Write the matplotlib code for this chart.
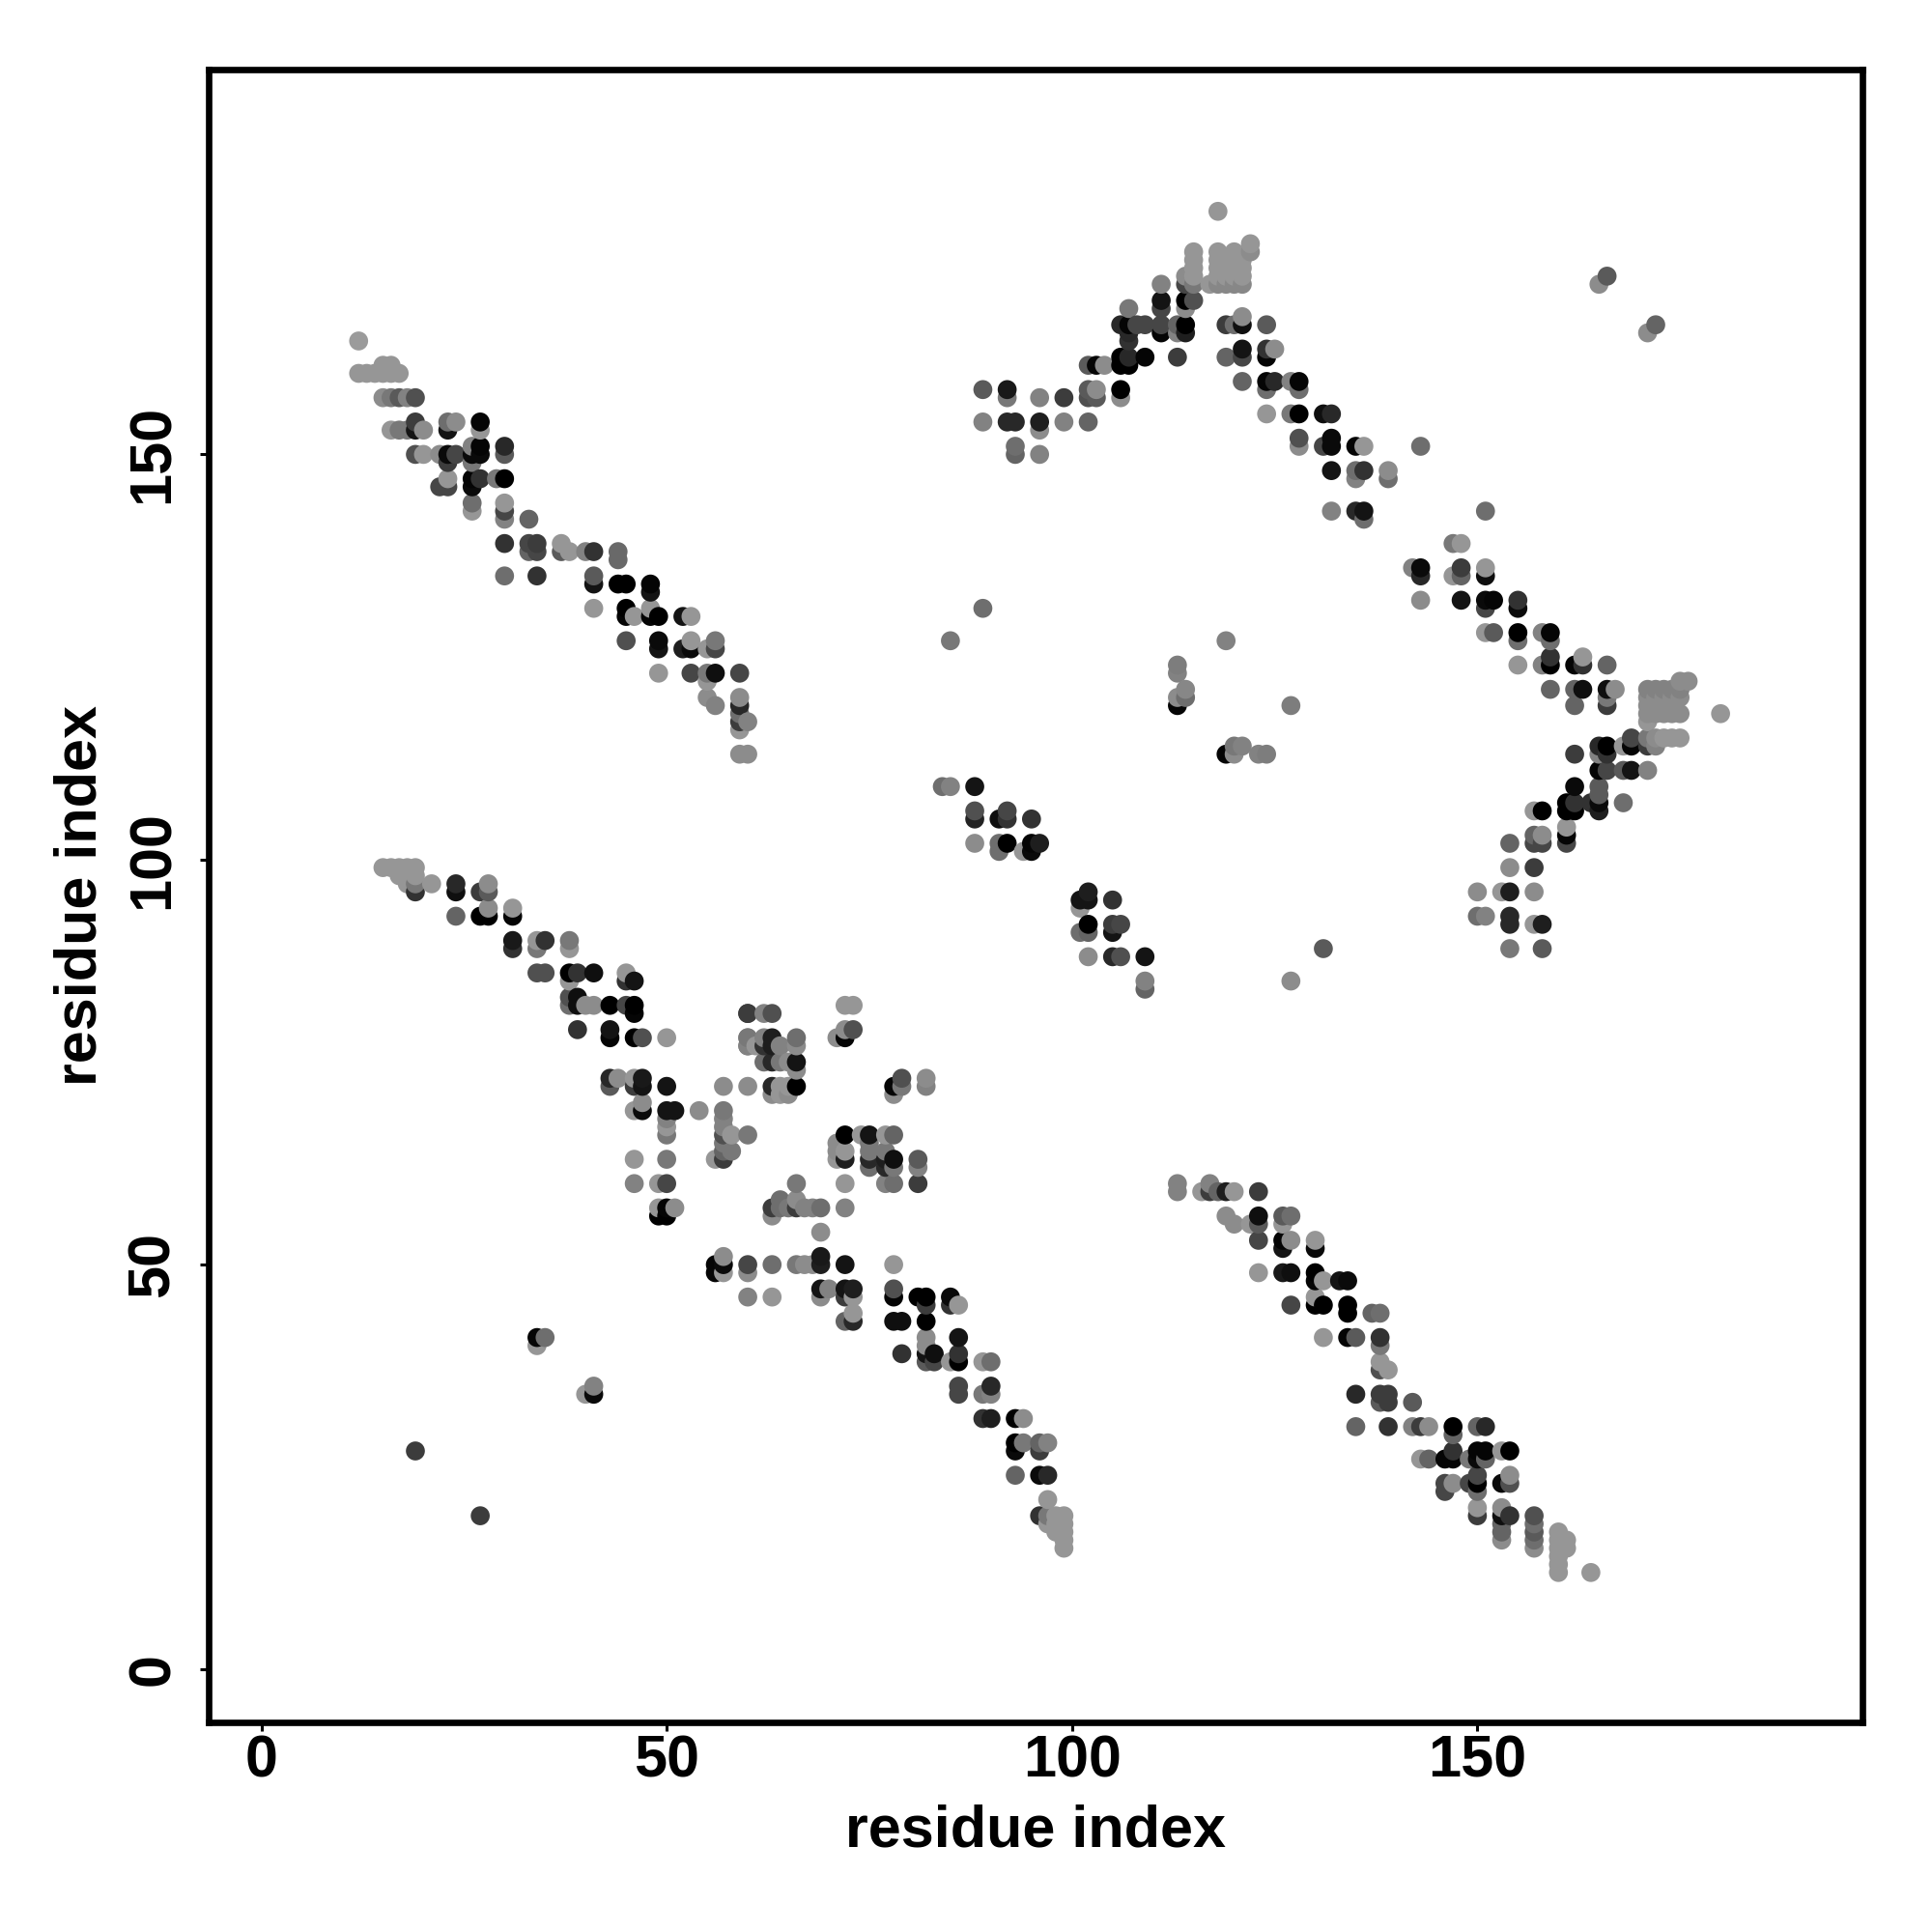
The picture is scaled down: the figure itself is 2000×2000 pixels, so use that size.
import numpy as np
from matplotlib import pyplot as plt

plt.rcParams['font.family'] = ['Liberation Sans', 'DejaVu Sans']
plt.rcParams['font.weight'] = 'bold'

# upper left band
a_x = [12,
       15, 16,
       12, 13, 14, 15, 16, 17,
       15, 16, 17, 18, 19,
       19, 23, 24, 27,
       16, 17, 18, 19, 20, 23, 27,
       26, 27, 30,
       19, 20, 22, 23, 24, 26, 27, 30,
       23, 26,
       23, 26, 27, 29, 30,
       22, 23, 26,
       26, 30,
       26, 30,
       30, 33,
       30, 33, 34, 37,
       33, 34, 37, 38, 40, 41, 44,
       44,
       30, 34, 41,
       41, 44, 45, 48,
       48,
       41, 45, 48,
       45, 46, 48, 49, 52, 53,
       45, 49, 53, 56,
       49, 52, 53, 55, 56,
       49, 53, 55, 56, 59,
       55,
       55, 59,
       56, 59,
       59,
       59, 60,
       59,
       59, 60]
a_y = [164,
       161, 161,
       160, 160, 160, 160, 160, 160,
       157, 157, 157, 157, 157,
       154, 154, 154, 154,
       153, 153, 153, 153, 153, 153, 153,
       151, 151, 151,
       150, 150, 150, 150, 150, 150, 150, 150,
       149, 149,
       147, 147, 147, 147, 147,
       146, 146, 146,
       144, 144,
       143, 143,
       142, 142,
       139, 139, 139, 139,
       138, 138, 138, 138, 138, 138, 138,
       137,
       135, 135, 135,
       134, 134, 134, 134,
       133,
       131, 131, 131,
       130, 130, 130, 130, 130, 130,
       127, 127, 127, 127,
       126, 126, 126, 126, 126,
       123, 123, 123, 123, 123,
       122,
       120, 120,
       119, 119,
       118,
       117, 117,
       116,
       113, 113]
a_g = [155,
       150, 150,
       150, 150, 150, 150, 150, 150,
       140, 120, 90, 130, 80,
       60, 110, 140, 5,
       150, 120, 120, 20, 140, 20, 150,
       130, 5, 40,
       80, 150, 140, 10, 70, 10, 10, 90,
       60, 120,
       150, 5, 50, 120, 0,
       70, 70, 10,
       110, 150,
       150, 70,
       130, 100,
       50, 70, 60, 150,
       100, 70, 90, 150, 130, 50, 105,
       105,
       110, 50, 90,
       20, 0, 0, 5,
       20,
       150, 0, 150,
       5, 150, 5, 0, 20, 150,
       80, 10, 150, 120,
       20, 30, 10, 150, 70,
       150, 70, 120, 15, 70,
       150,
       140, 140,
       130, 40,
       110,
       60, 130,
       150,
       140, 140]

# lower left band
b_x = [15, 16, 17, 18, 19,
       17, 18, 19,
       18, 19, 21, 24, 28,
       19, 24, 27, 28,
       28, 31,
       24, 27, 28, 31,
       31, 34, 35, 38,
       31, 34, 38,
       34, 35, 38, 39, 41, 45,
       38, 45, 46,
       38, 39,
       38, 39, 40, 41, 43, 45, 46,
       46, 60,
       39, 43,
       43, 46, 47, 50, 60,
       60,
       43, 44, 46, 47,
       43, 46, 47, 50, 57, 60,
       47,
       46, 47, 50, 51, 54, 57,
       50, 57,
       50, 57,
       50, 57, 58, 60,
       57,
       57, 58,
       46, 50, 56, 57,
       46, 49, 50,
       49, 50, 51,
       49, 50]
b_y = [99, 99, 99, 99, 99,
       98, 98, 98,
       97, 97, 97, 97, 97,
       96, 96, 96, 96,
       94, 94,
       93, 93, 93, 93,
       90, 90, 90, 90,
       89, 89, 89,
       86, 86, 86, 86, 86, 86,
       85, 85, 85,
       83, 83,
       82, 82, 82, 82, 82, 82, 82,
       81, 81,
       79, 79,
       78, 78, 78, 78, 78,
       77,
       73, 73, 73, 73,
       72, 72, 72, 72, 72, 72,
       70,
       69, 69, 69, 69, 69, 69,
       68, 68,
       67, 67,
       66, 66, 66, 66,
       65,
       64, 64,
       63, 63, 63, 63,
       60, 60, 60,
       57, 57, 57,
       56, 56]
b_g = [150, 150, 150, 150, 150,
       150, 150, 150,
       150, 120, 150, 40, 140,
       50, 15, 60, 90,
       140, 150,
       100, 0, 0, 5,
       25, 150, 50, 120,
       50, 120, 150,
       80, 80, 0, 50, 15, 150,
       150, 50, 20,
       80, 15,
       110, 15, 140, 140, 0, 70, 0,
       5, 50,
       50, 20,
       5, 0, 80, 150, 130,
       120,
       40, 140, 150, 25,
       90, 60, 20, 20, 140, 140,
       140,
       150, 10, 20, 20, 140, 120,
       130, 130,
       150, 130,
       120, 80, 150, 120,
       120,
       100, 120,
       150, 120, 150, 60,
       130, 150, 70,
       150, 5, 140,
       0, 0]

# centre clusters and the lower band going to (99, 15)
c_x = [72, 73,
       60, 62, 63,
       72, 73,
       60, 62, 63, 66, 71, 72,
       60, 61, 62, 63, 64, 66,
       62, 63, 64, 65, 66,
       66,
       79, 82,
       63, 64, 65, 66, 78, 79, 82,
       63, 64, 65, 78,
       72, 74, 75, 77, 78,
       71, 75,
       71, 72, 75, 77,
       71, 72, 75, 77, 78, 81,
       75, 77, 78, 81,
       66, 72, 77, 78, 81,
       64, 66,
       63, 64, 65, 66, 67, 68, 69, 72,
       63,
       69,
       57, 69,
       56, 57, 60, 63, 66, 67, 68, 69, 72, 78,
       56, 57, 60,
       69, 70, 72, 73, 78,
       60, 63, 69, 72, 73, 78, 81, 82, 85,
       82, 85, 86,
       73,
       72, 73, 78, 79, 82,
       82, 86,
       82,
       79, 82, 83, 86,
       82, 83, 85, 86, 89, 90,
       86, 90,
       86, 89, 90,
       89, 90, 93, 94,
       93, 94, 96, 97,
       93, 96,
       93, 96, 97,
       97,
       96, 97, 98, 99,
       97, 98, 99,
       98, 99,
       99,
       99]
c_y = [82, 82,
       81, 81, 81,
       79, 79,
       78, 78, 78, 78, 78, 78,
       77, 77, 77, 77, 77, 77,
       75, 75, 75, 75, 75,
       74,
       73, 73,
       72, 72, 72, 72, 72, 72, 72,
       71, 71, 71, 71,
       66, 66, 66, 66, 66,
       65, 65,
       64, 64, 64, 64,
       63, 63, 63, 63, 63, 63,
       62, 62, 62, 62,
       60, 60, 60, 60, 60,
       58, 58,
       57, 57, 57, 57, 57, 57, 57, 57,
       56,
       54,
       51, 51,
       50, 50, 50, 50, 50, 50, 50, 50, 50, 50,
       49, 49, 49,
       47, 47, 47, 47, 47,
       46, 46, 46, 46, 46, 46, 46, 46, 46,
       45, 45, 45,
       44,
       43, 43, 43, 43, 43,
       41, 41,
       40,
       39, 39, 39, 39,
       38, 38, 38, 38, 38, 38,
       35, 35,
       34, 34, 34,
       31, 31, 31, 31,
       28, 28, 28, 28,
       27, 27,
       24, 24, 24,
       21,
       19, 19, 19, 19,
       18, 18, 18,
       17, 17,
       16,
       15]
c_g = [150, 150,
       60, 130, 80,
       140, 80,
       120, 130, 30, 110, 140, 5,
       130, 150, 50, 30, 130, 140,
       110, 40, 120, 140, 20,
       140,
       80, 140,
       40, 150, 150, 0, 5, 120, 130,
       140, 150, 140, 140,
       0, 150, 20, 150, 100,
       140, 120,
       140, 150, 120, 120,
       150, 30, 40, 30, 15, 90,
       110, 40, 120, 130,
       120, 150, 130, 110, 60,
       110, 140,
       60, 110, 120, 60, 130, 130, 110, 130,
       140,
       140,
       140, 25,
       5, 10, 70, 110, 120, 140, 140, 30, 20, 150,
       5, 150, 140,
       20, 130, 20, 30, 80,
       130, 150, 140, 60, 150, 5, 0, 0, 10,
       60, 50, 150,
       150,
       100, 40, 15, 15, 0,
       140, 20,
       140,
       50, 20, 15, 50,
       90, 70, 150, 0, 150, 110,
       70, 40,
       70, 120, 130,
       50, 30, 0, 140,
       0, 120, 100, 130,
       10, 60,
       100, 10, 40,
       150,
       50, 120, 150, 150,
       150, 150, 150,
       150, 150,
       150,
       150]

# lower right band
d_x = [113, 117,
       113, 116, 117, 118, 119, 120, 123,
       119, 123, 126, 127,
       120, 122, 123, 126,
       123, 126, 127, 130,
       126, 130,
       123, 126, 127, 130,
       130, 131, 133, 134,
       130,
       127, 130, 131, 134,
       134, 137, 138,
       131, 134, 135, 138,
       138,
       138,
       138, 139,
       135, 138, 139,
       138, 139, 142,
       135, 139, 142, 143, 144, 147, 150, 151,
       147,
       147, 150, 151, 153, 154,
       143, 144, 146, 147, 149, 150, 151,
       150, 154,
       146, 147, 149, 150, 153, 154,
       146, 150,
       150, 153,
       150, 153, 154, 157,
       153, 157,
       153, 157, 160,
       153, 157, 160, 161,
       157, 160, 161,
       160,
       160,
       160, 164]
d_y = [60, 60,
       59, 59, 59, 59, 59, 59, 59,
       56, 56, 56, 56,
       55, 55, 55, 55,
       53, 53, 53, 53,
       52, 52,
       49, 49, 49, 49,
       48, 48, 48, 48,
       46,
       45, 45, 45, 45,
       44, 44, 44,
       41, 41, 41, 41,
       40,
       38,
       37, 37,
       34, 34, 34,
       33, 33, 33,
       30, 30, 30, 30, 30, 30, 30, 30,
       29,
       27, 27, 27, 27, 27,
       26, 26, 26, 26, 26, 26, 26,
       24, 24,
       23, 23, 23, 23, 23, 23,
       22, 22,
       20, 20,
       19, 19, 19, 19,
       18, 18,
       17, 17, 17,
       16, 16, 16, 16,
       15, 15, 15,
       14,
       13,
       12, 12]
d_g = [130, 130,
       130, 150, 60, 100, 30, 150, 60,
       140, 15, 90, 110,
       140, 150, 90, 150,
       70, 5, 140, 150,
       20, 10,
       150, 25, 15, 0,
       5, 150, 20, 10,
       150,
       70, 0, 0, 0,
       0, 100, 110,
       150, 5, 90, 50,
       120,
       150,
       80, 150,
       40, 60, 60,
       90, 60, 90,
       100, 50, 130, 60, 140, 0, 100, 40,
       100,
       50, 5, 5, 150, 0,
       150, 100, 5, 5, 120, 10, 100,
       70, 140,
       70, 140, 70, 0, 10, 80,
       70, 110,
       150, 140,
       60, 15, 50, 80,
       100, 110,
       100, 90, 150,
       140, 110, 150, 150,
       140, 150, 150,
       150,
       150,
       150, 150]

# short diagonal in the middle
e_x = [84, 85, 88,
       88, 92,
       88, 91, 92, 95,
       88, 91, 92, 95, 96,
       91, 94, 95,
       102,
       101, 102, 105,
       101,
       102, 105, 106,
       101, 102, 105,
       102, 105, 106, 109,
       109,
       109]
e_y = [109, 109, 109,
       106, 106,
       105, 105, 105, 105,
       102, 102, 102, 102, 102,
       101, 101, 101,
       96,
       95, 95, 95,
       94,
       92, 92, 92,
       91, 91, 91,
       88, 88, 88, 88,
       85,
       84]
e_g = [110, 130, 20,
       80, 70,
       35, 15, 50, 50,
       140, 110, 0, 5, 30,
       110, 150, 10,
       30,
       20, 20, 50,
       150,
       0, 60, 70,
       110, 100, 20,
       140, 40, 80, 20,
       130,
       100]

# upper arm with the peak near (118, 180)
f_x = [118,
       122,
       115, 118, 120, 122,
       115, 118, 119, 120, 121,
       115, 118, 119, 120, 121,
       114, 115, 118, 119, 120, 121,
       111, 114, 115, 117, 118, 119, 120, 121,
       111, 114, 115,
       107, 111, 114,
       121,
       106, 107, 108, 109, 111, 113, 114, 119, 120, 121, 124,
       107, 111, 113, 114,
       107,
       121, 124, 125,
       106, 107, 109, 113, 119, 121, 124,
       102, 103, 104, 106, 107,
       121, 124, 125, 127, 128,
       89, 92, 102, 103, 106, 124, 128,
       92, 96, 99, 102, 103, 106,
       124, 127, 128, 131, 132,
       89, 92, 93, 96, 99, 102,
       96,
       128, 132,
       93, 128, 131, 132, 135, 136, 143,
       93, 96,
       132, 135, 136, 139,
       135, 139,
       132, 135, 136,
       136]
f_y = [180,
       176,
       175, 175, 175, 175,
       174, 174, 174, 174, 174,
       173, 173, 173, 173, 173,
       172, 172, 172, 172, 172, 172,
       171, 171, 171, 171, 171, 171, 171, 171,
       169, 169, 169,
       168, 168, 168,
       167,
       166, 166, 166, 166, 166, 166, 166, 166, 166, 166, 166,
       165, 165, 165, 165,
       164,
       163, 163, 163,
       162, 162, 162, 162, 162, 162, 162,
       161, 161, 161, 161, 161,
       159, 159, 159, 159, 159,
       158, 158, 158, 158, 158, 158, 158,
       157, 157, 157, 157, 157, 157,
       155, 155, 155, 155, 155,
       154, 154, 154, 154, 154, 154,
       153,
       152, 152,
       151, 151, 151, 151, 151, 151, 151,
       150, 150,
       148, 148, 148, 148,
       147, 147,
       143, 143, 143,
       142]
f_g = [150,
       150,
       150, 150, 150, 140,
       150, 150, 150, 150, 150,
       150, 150, 150, 150, 150,
       140, 150, 150, 150, 150, 150,
       130, 70, 120, 150, 135, 135, 135, 135,
       20, 0, 80,
       120, 70, 140,
       140,
       40, 5, 70, 70, 70, 100, 0, 60, 110, 15, 90,
       40, 5, 130, 30,
       50,
       20, 50, 140,
       0, 40, 5, 60, 100, 70, 5,
       90, 5, 140, 0, 0,
       100, 5, 40, 130, 5,
       90, 25, 90, 140, 0, 110, 110,
       120, 130, 60, 80, 90, 140,
       150, 120, 0, 15, 40,
       130, 40, 40, 30, 130, 100,
       140,
       80, 10,
       110, 140, 70, 10, 5, 150, 110,
       100, 130,
       20, 110, 50, 140,
       130, 110,
       130, 40, 20,
       110]

# right arm with the peak near (180, 118)
g_x = [147, 148,
       142, 143, 148, 151,
       143, 147, 148, 151,
       143, 148, 151, 152, 155,
       151, 155,
       151, 152, 155, 158, 159,
       155, 159,
       159, 163,
       155, 158, 159, 162, 163, 166,
       175, 176,
       159, 162, 163, 166, 167, 171, 172, 173, 174, 175,
       166, 171, 172, 173, 174, 175,
       162, 166, 171, 172, 173, 174,
       171, 172, 173, 174, 175, 180,
       171,
       169, 171, 172, 173, 174, 175,
       165, 166, 168, 169, 171, 172,
       162, 165, 166,
       165, 166, 168, 169, 171,
       162, 165,
       165,
       161, 162, 164, 165, 168,
       157, 158, 161, 162, 165,
       161,
       157, 158, 161,
       154, 157, 158, 161,
       154, 157,
       150, 153, 154, 157,
       150, 151, 154,
       154, 157, 158,
       154, 158]
g_y = [139, 139,
       136, 136, 136, 136,
       135, 135, 135, 135,
       132, 132, 132, 132, 132,
       131, 131,
       128, 128, 128, 128, 128,
       127, 127,
       125, 125,
       124, 124, 124, 124, 124, 124,
       122, 122,
       121, 121, 121, 121, 121, 121, 121, 121, 121, 121,
       120, 120, 120, 120, 120, 120,
       119, 119, 119, 119, 119, 119,
       118, 118, 118, 118, 118, 118,
       117,
       115, 115, 115, 115, 115, 115,
       114, 114, 114, 114, 114, 114,
       113, 113, 113,
       111, 111, 111, 111, 111,
       109, 109,
       108,
       107, 107, 107, 107, 107,
       106, 106, 106, 106, 106,
       104,
       103, 103, 103,
       102, 102, 102, 102,
       99, 99,
       96, 96, 96, 96,
       93, 93, 93,
       92, 92, 92,
       89, 89]
g_g = [120, 150,
       130, 10, 60, 150,
       40, 150, 100, 15,
       140, 20, 10, 5, 50,
       70, 10,
       150, 90, 0, 130, 5,
       110, 110,
       50, 150,
       150, 130, 0, 5, 50, 100,
       140, 140,
       100, 100, 15, 15, 140, 130, 130, 130, 130, 130,
       120, 140, 140, 140, 140, 140,
       100, 60, 140, 140, 140, 140,
       140, 140, 140, 140, 140, 150,
       150,
       70, 120, 140, 150, 150, 150,
       40, 0, 150, 5, 60, 130,
       60, 130, 50,
       5, 70, 90, 20, 130,
       10, 90,
       90,
       0, 50, 50, 10, 110,
       150, 0, 0, 0, 30,
       150,
       100, 140, 5,
       100, 70, 70, 70,
       140, 60,
       140, 150, 30, 140,
       110, 130, 40,
       40, 150, 30,
       120, 90]

# scattered contacts away from the bands
h_x = [19, 27, 34, 34, 35, 40, 41, 41, 85, 89,
       113, 113, 113, 113, 114, 114, 119, 127,
       119, 120, 120, 121, 123, 124,
       131, 127, 151, 165, 166, 171, 172]
h_y = [27, 19, 40, 41, 41, 34, 34, 35, 127, 131,
       124, 123, 120, 119, 121, 120, 127, 119,
       113, 114, 113, 114, 113, 113,
       89, 85, 143, 171, 172, 165, 166]
h_g = [60, 60, 150, 5, 110, 150, 10, 130, 120, 110,
       125, 130, 140, 5, 135, 110, 130, 125,
       5, 120, 140, 130, 130, 125,
       90, 140, 110, 140, 90, 140, 100]

tick_values = [0, 50, 100, 150]

x = np.array(a_x + b_x + c_x + d_x + e_x + f_x + g_x + h_x)
y = np.array(a_y + b_y + c_y + d_y + e_y + f_y + g_y + h_y)
g = np.array(a_g + b_g + c_g + d_g + e_g + f_g + g_g + h_g)

# later residues sit on top, as in the original
order = np.lexsort((y, x))
colors = np.repeat(g[order, None] / 255, 3, axis=1)

fig = plt.figure(figsize=(10, 10), dpi=200)
ax = fig.add_axes([216 / 2000, 1 - 1783 / 2000, 1712 / 2000, 1711 / 2000])
ax.scatter(x[order], y[order], c=colors, s=50, linewidths=0, zorder=3)

ax.set_xlim(-6.5, 197.5)
ax.set_ylim(-6.5, 197.5)
ax.set_xticks(tick_values)
ax.set_yticks(tick_values)
ax.tick_params(axis='x', length=3.4, width=1.1, labelsize=22, pad=1.2)
ax.tick_params(axis='y', length=3.4, width=1.1, labelsize=22, pad=6.7)
for lab in ax.get_yticklabels():
    lab.set_rotation(90)
    lab.set_va('center')
for sp in ax.spines.values():
    sp.set_linewidth(2.4)

ax.set_xlabel('residue index', fontsize=22, fontweight='bold', labelpad=5.4)
ax.set_ylabel('residue index', fontsize=22, fontweight='bold', labelpad=6.8)

fig.savefig('out.png')
